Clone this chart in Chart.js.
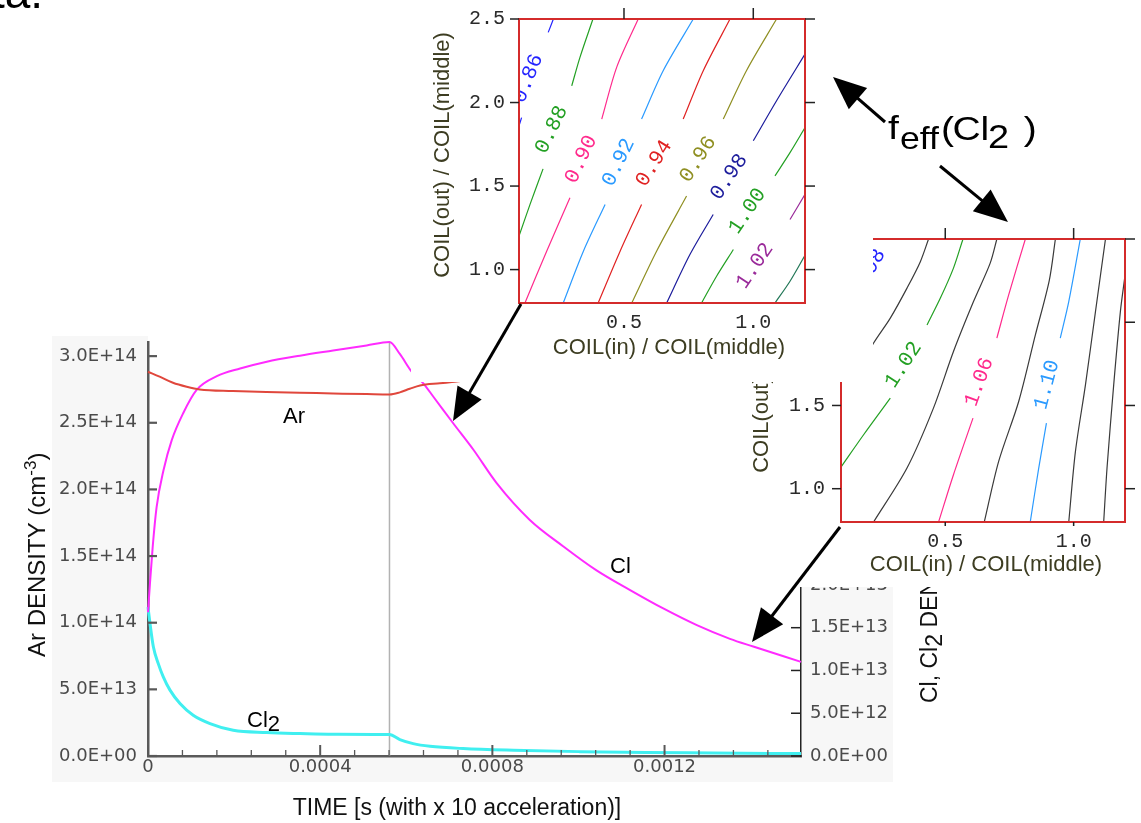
<!DOCTYPE html>
<html>
<head>
<meta charset="utf-8">
<script src="https://cdn.jsdelivr.net/npm/chart.js@4.4.1/dist/chart.umd.min.js"></script>
<style>
  html, body { margin: 0; padding: 0; background: #fff; }
  #stage { position: relative; width: 1141px; height: 823px; overflow: hidden; background: #fff; }
  canvas { position: absolute; display: block; }
  .pane { position: absolute; background: #fff; overflow: hidden; }
  #notes { position: absolute; left: 0; top: 0; pointer-events: none; }
</style>
</head>
<body>
<div id="stage">
  <canvas id="main" width="1141" height="823" style="left:0;top:0"></canvas>
  <div class="pane" style="left:748px;top:200px;width:393px;height:387px">
    <canvas id="insetB" width="393" height="387" style="left:0;top:0"></canvas>
  </div>
  <div class="pane" style="left:411px;top:0;width:462px;height:382px">
    <canvas id="insetA" width="462" height="402" style="left:0;top:-20px"></canvas>
  </div>
  <svg id="notes" width="1141" height="823" xmlns="http://www.w3.org/2000/svg"></svg>
</div>
<script>
// ---------- time history of the densities ----------
const timeTicks = [0, 0.0004, 0.0008, 0.0012];
const arTicks = [0, 5e13, 1e14, 1.5e14, 2e14, 2.5e14, 3e14];
const clTicks = [0, 5e12, 1e13, 1.5e13, 2e13, 2.5e13, 3e13, 3.5e13, 4e13, 4.5e13];

const timeAr = [0, 0.000027, 0.000058, 0.00009, 0.00012, 0.000197, 0.000275, 0.000353, 0.00043, 0.000508,
  0.000561, 0.000585, 0.000608, 0.000632, 0.000678, 0.000706, 0.00075, 0.0008, 0.001, 0.0012, 0.001517];
const arDensity = [2.883e14, 2.846e14, 2.80e14, 2.77e14, 2.75e14, 2.738e14, 2.73e14, 2.725e14, 2.72e14, 2.715e14,
  2.712e14, 2.728e14, 2.755e14, 2.78e14, 2.796e14, 2.805e14, 2.82e14, 2.825e14, 2.835e14, 2.845e14, 2.85e14];

const timeCl = [0, 0.0000046, 0.000011, 0.00002, 0.000036, 0.000055, 0.000082, 0.000113, 0.00016, 0.000214,
  0.000276, 0.000353, 0.00043, 0.000508, 0.000561, 0.000585, 0.000613, 0.000639, 0.000663, 0.000709,
  0.000756, 0.00081, 0.000887, 0.000965, 0.001042, 0.00112, 0.001197, 0.001275, 0.001352, 0.001406, 0.001517];
const clDensity = [16.8e12, 20.2e12, 24.5e12, 29.1e12, 33.4e12, 36.9e12, 40.1e12, 42.8e12, 44.4e12, 45.3e12,
  46.1e12, 46.8e12, 47.4e12, 48.0e12, 48.4e12, 47.0e12, 44.9e12, 43.6e12, 42.0e12, 38.9e12,
  35.8e12, 31.9e12, 27.6e12, 24.5e12, 21.7e12, 19.4e12, 17.25e12, 15.3e12, 13.7e12, 12.8e12, 11.0e12];

const timeCl2 = [0, 0.0000046, 0.0000123, 0.0000239, 0.0000355, 0.0000511, 0.0000743, 0.000105, 0.000144, 0.000198,
  0.000276, 0.000353, 0.00043, 0.000561, 0.000585, 0.000616, 0.000655, 0.000732, 0.000849, 0.001003,
  0.001158, 0.001313, 0.001517];
const cl2Density = [17.4e12, 15.5e12, 12.8e12, 10.8e12, 9.25e12, 7.7e12, 6.13e12, 4.76e12, 3.79e12, 3.0e12,
  2.74e12, 2.62e12, 2.54e12, 2.5e12, 1.92e12, 1.45e12, 1.14e12, 0.87e12, 0.67e12, 0.51e12,
  0.40e12, 0.35e12, 0.28e12];

const switchTime = 0.000561;           // coil ratio switched here
const TIME_MAX = 0.001517;
const TIME_MINOR = 0.00008;
const AR_MAX = 3.106e14;
const CL_MAX = 4.84e13;

// ---------- f_eff(Cl2) contour maps over the coil-current ratios ----------
const insetXTicks = [0.5, 1.0];
const insetYTicks = [1.0, 1.5, 2.0, 2.5];
const RATIO_IN_MIN = 0.094, RATIO_IN_MAX = 1.2;
const RATIO_OUT_MIN = 0.8, RATIO_OUT_MAX = 2.5;

const insetALevels = ['0.86', '0.88', '0.90', '0.92', '0.94', '0.96', '0.98', '1.00', '1.02', '1.04'];
const insetALines = [
  [[[0.094, 1.86], [0.104, 1.91]], [[0.207, 2.42], [0.227, 2.5]]],
  [[[0.094, 1.20], [0.137, 1.392], [0.187, 1.603]], [[0.298, 2.10], [0.33, 2.272], [0.38, 2.5]]],
  [[[0.117, 0.8], [0.201, 1.11], [0.291, 1.43]], [[0.414, 1.901], [0.472, 2.212], [0.555, 2.5]]],
  [[[0.265, 0.8], [0.343, 1.11], [0.427, 1.39]], [[0.568, 1.901], [0.652, 2.192], [0.768, 2.5]]],
  [[[0.40, 0.8], [0.485, 1.11], [0.568, 1.39]], [[0.729, 1.901], [0.807, 2.192], [0.91, 2.5]]],
  [[[0.53, 0.8], [0.626, 1.11], [0.742, 1.44]], [[0.884, 1.901], [0.974, 2.192], [1.09, 2.5]]],
  [[[0.665, 0.8], [0.755, 1.09], [0.845, 1.33]], [[1.0, 1.771], [1.09, 2.011], [1.2, 2.29]]],
  [[[0.80, 0.8], [0.858, 0.96], [0.923, 1.12]], [[1.084, 1.561], [1.142, 1.70], [1.2, 1.85]]],
  [[[1.142, 1.30], [1.2, 1.45]]],
  [[[1.084, 0.8], [1.142, 0.93], [1.2, 1.085]]]
];
const insetALabelSpots = [[0.129, 2.144, -68], [0.22, 1.837, -64], [0.334, 1.66, -65], [0.479, 1.642, -64],
  [0.616, 1.636, -58], [0.786, 1.66, -57], [0.906, 1.555, -56], [0.977, 1.35, -56], [1.006, 1.023, -56], null];

const insetBLevels = ['0.98', '1.00', '1.02', '1.04', '1.06', '1.08', '1.10', '1.12', '1.14'];
const insetBLines = [
  [],
  [[[0.153, 1.684], [0.221, 1.875], [0.286, 2.025], [0.351, 2.205], [0.403, 2.364], [0.435, 2.5]]],
  [[[0.094, 1.13], [0.182, 1.324], [0.286, 1.544]], [[0.429, 1.984], [0.481, 2.145], [0.532, 2.325], [0.569, 2.5]]],
  [[[0.221, 0.8], [0.351, 1.124], [0.454, 1.484], [0.532, 1.824], [0.61, 2.124], [0.675, 2.355], [0.701, 2.5]]],
  [[[0.474, 0.8], [0.532, 1.084], [0.608, 1.424]], [[0.701, 1.905], [0.747, 2.164], [0.812, 2.5]]],
  [[[0.652, 0.8], [0.708, 1.164], [0.786, 1.524], [0.851, 1.924], [0.905, 2.25], [0.929, 2.5]]],
  [[[0.831, 0.8], [0.864, 1.124], [0.894, 1.394]], [[0.948, 1.905], [0.981, 2.124], [1.026, 2.5]]],
  [[[0.981, 0.8], [1.007, 1.224], [1.046, 1.624], [1.085, 2.064], [1.124, 2.5]]],
  [[[1.117, 0.8], [1.13, 1.124], [1.156, 1.624], [1.182, 2.064], [1.2, 2.28]]]
];
const insetBLabelSpots = [[0.2, 2.3, -60], null, [0.337, 1.744, -57], null, [0.632, 1.642, -70], null,
  [0.896, 1.624, -75], null, null];

// ---------- styles ----------
const SANS = "'Liberation Sans', Arial, Helvetica, sans-serif";
const WIDE = "'DejaVu Sans', Verdana, sans-serif";
const MONO = "'Liberation Mono', 'DejaVu Sans Mono', monospace";
const levelColors = {
  '0.86': '#2424ff', '0.88': '#23a023', '0.90': '#ff2a8c', '0.92': '#2a9aff', '0.94': '#e02222',
  '0.96': '#8f8f22', '0.98': '#1c1c9c', '1.00': '#23a023', '1.02': '#9a2a9a', '1.04': '#227757'
};
const levelColorsB = {
  '0.98': '#2424ff', '1.00': '#3a3a3a', '1.02': '#23a023', '1.04': '#3a3a3a', '1.06': '#ff2a8c',
  '1.08': '#3a3a3a', '1.10': '#2a9aff', '1.12': '#3a3a3a', '1.14': '#3a3a3a'
};

function sci(v) {
  if (v === 0) return '0.0E+00';
  const [m, e] = v.toExponential(1).split('e');
  const n = +e;
  return m + 'E' + (n < 0 ? '-' : '+') + String(Math.abs(n)).padStart(2, '0');
}
function fixTicks(list) { return scale => { scale.ticks = list.map(v => ({ value: v })); }; }
function pts(xs, ys) { return xs.map((x, i) => ({ x, y: ys[i] })); }

// draw a run of text pieces one after another along the current x direction
function drawRuns(ctx, runs, x0, y0) {
  let x = x0;
  runs.forEach(r => {
    ctx.font = `${r.size}px ${SANS}`;
    ctx.fillText(r.t, x, y0 + (r.dy || 0));
    x += ctx.measureText(r.t).width;
  });
  return x - x0;
}
function runsWidth(ctx, runs) {
  let w = 0;
  runs.forEach(r => { ctx.font = `${r.size}px ${SANS}`; w += ctx.measureText(r.t).width; });
  return w;
}

// curve names placed at (time, density) on their axis
const nameAnchors = [
  { runs: [{ t: 'Ar', size: 22 }], t: 0.0003136, v: 2.498e14, axis: 'y' },
  { runs: [{ t: 'Cl', size: 22 }], t: 0.0010733, v: 21.39e12, axis: 'y1' },
  { runs: [{ t: 'Cl', size: 22 }, { t: '2', size: 22, dy: 4 }], t: 0.00023, v: 3.39e12, axis: 'y1' }
];

const mainDecor = {
  id: 'mainDecor',
  beforeDraw(chart) {
    const c = chart.ctx;
    c.save();
    c.fillStyle = '#f7f7f7';
    c.fillRect(52, 336, 96, 446);
    c.fillRect(52, 756, 841, 26);
    c.fillRect(801, 578, 92, 204);
    c.restore();
  },
  beforeDatasetsDraw(chart) {
    const { ctx, chartArea: a, scales } = chart;
    const px = scales.x.getPixelForValue(switchTime);
    ctx.save();
    ctx.strokeStyle = '#b2b2b2';
    ctx.lineWidth = 1.5;
    ctx.beginPath(); ctx.moveTo(px, a.top); ctx.lineTo(px, a.bottom); ctx.stroke();
    ctx.restore();
  },
  afterDraw(chart) {
    const { ctx, chartArea: a, scales } = chart;
    const { x, y, y1 } = scales;
    ctx.save();
    const seg = (x0, y0, x1, y1_) => { ctx.beginPath(); ctx.moveTo(x0, y0); ctx.lineTo(x1, y1_); ctx.stroke(); };
    // inward tick marks
    ctx.strokeStyle = '#585858'; ctx.lineWidth = 2.2;
    arTicks.forEach(v => { const py = y.getPixelForValue(v); seg(a.left, py, a.left + 9, py); });
    for (let i = 0; i * TIME_MINOR <= TIME_MAX + 1e-12; i++) {
      const px = x.getPixelForValue(i * TIME_MINOR);
      const len = i % 5 === 0 ? 11 : 6;
      ctx.lineWidth = i % 5 === 0 ? 2 : 1.3;
      seg(px, a.bottom, px, a.bottom - len);
    }
    ctx.strokeStyle = '#222'; ctx.lineWidth = 1.5;
    clTicks.forEach(v => { const py = y1.getPixelForValue(v); seg(a.right, py, a.right - 10, py); });

    // curve names
    ctx.fillStyle = '#000';
    ctx.textBaseline = 'alphabetic'; ctx.textAlign = 'left';
    nameAnchors.forEach(n => {
      drawRuns(ctx, n.runs, x.getPixelForValue(n.t), scales[n.axis].getPixelForValue(n.v));
    });

    // axis titles
    ctx.fillStyle = '#111';
    const xt = [{ t: 'TIME [s (with x 10 acceleration)]', size: 23 }];
    drawRuns(ctx, xt, 457 - runsWidth(ctx, xt) / 2, 815);

    ctx.save();
    ctx.translate(45, 657); ctx.rotate(-Math.PI / 2);
    drawRuns(ctx, [{ t: 'Ar DENSITY (cm', size: 24 }, { t: '-3', size: 17, dy: -9 }, { t: ')', size: 24 }], 0, 0);
    ctx.restore();

    ctx.save();
    ctx.translate(937, 703); ctx.rotate(-Math.PI / 2);
    drawRuns(ctx, [{ t: 'Cl, Cl', size: 23 }, { t: '2', size: 23, dy: 5 }, { t: ' DENSITY (cm', size: 23 },
      { t: '-3', size: 16, dy: -9 }, { t: ')', size: 23 }], 0, 0);
    ctx.restore();
    ctx.restore();
  }
};

const tickFont = { family: WIDE, size: 18 };
new Chart(document.getElementById('main'), {
  type: 'line',
  data: {
    datasets: [
      { label: 'Ar', data: pts(timeAr, arDensity), yAxisID: 'y', borderColor: '#e0473c', borderWidth: 2,
        pointRadius: 0, cubicInterpolationMode: 'monotone', clip: 4 },
      { label: 'Cl', data: pts(timeCl, clDensity), yAxisID: 'y1', borderColor: '#ff2bff', borderWidth: 2,
        pointRadius: 0, cubicInterpolationMode: 'monotone', clip: 4 },
      { label: 'Cl2', data: pts(timeCl2, cl2Density), yAxisID: 'y1', borderColor: '#40eff0', borderWidth: 3,
        pointRadius: 0, cubicInterpolationMode: 'monotone', clip: 4 }
    ]
  },
  options: {
    responsive: false, animation: false, devicePixelRatio: 1, events: [],
    layout: { padding: { left: 0, right: 248, top: 342, bottom: 40 } },
    plugins: { legend: { display: false }, tooltip: { enabled: false } },
    scales: {
      x: {
        type: 'linear', min: 0, max: TIME_MAX,
        afterBuildTicks: fixTicks(timeTicks), afterFit: s => { s.height = 27; },
        grid: { drawOnChartArea: false, drawTicks: false },
        border: { color: '#5a5a5a', width: 2.5 },
        ticks: { padding: 1, color: '#4a4a4a', font: tickFont, maxRotation: 0, autoSkip: false,
          callback: v => (v === 0 ? '0' : v.toFixed(4)) }
      },
      y: {
        position: 'left', min: 0, max: AR_MAX,
        afterBuildTicks: fixTicks(arTicks), afterFit: s => { s.width = 148; },
        grid: { drawOnChartArea: false, drawTicks: false },
        border: { color: '#5a5a5a', width: 2.5 },
        ticks: { padding: 11, color: '#4a4a4a', font: tickFont, autoSkip: false, callback: v => sci(v) }
      },
      y1: {
        position: 'right', min: 0, max: CL_MAX,
        afterBuildTicks: fixTicks(clTicks), afterFit: s => { s.width = 92; },
        grid: { drawOnChartArea: false, drawTicks: false },
        border: { color: '#222', width: 1.5 },
        ticks: { padding: 9, color: '#4a4a4a', font: tickFont, autoSkip: false, callback: v => sci(v) }
      }
    }
  },
  plugins: [mainDecor]
});

// ---------- contour map panels ----------
function makeInset(id, cfg) {
  const datasets = [];
  cfg.lines.forEach((segs, i) => {
    const col = cfg.colors[cfg.levels[i]];
    segs.forEach(seg => datasets.push({
      data: seg.map(p => ({ x: p[0], y: p[1] })), showLine: true, borderColor: col,
      borderWidth: 1.2, pointRadius: 0, tension: 0.3, fill: false
    }));
  });
  const decor = {
    id: 'insetDecor',
    afterDatasetsDraw(chart) {
      const { ctx, chartArea: a, scales: { x, y } } = chart;
      ctx.save();
      ctx.beginPath(); ctx.rect(a.left, a.top, a.right - a.left, a.bottom - a.top); ctx.clip();
      ctx.font = `21px ${MONO}`; ctx.textAlign = 'center'; ctx.textBaseline = 'middle';
      cfg.labelSpots.forEach((s, i) => {
        if (!s) return;
        ctx.save();
        ctx.translate(x.getPixelForValue(s[0]), y.getPixelForValue(s[1]));
        ctx.rotate(s[2] * Math.PI / 180);
        ctx.fillStyle = cfg.colors[cfg.levels[i]];
        ctx.fillText(cfg.levels[i], 0, 0);
        ctx.restore();
      });
      ctx.restore();

      ctx.save();
      ctx.strokeStyle = '#d42b2b'; ctx.lineWidth = 2;
      ctx.strokeRect(a.left, a.top, a.right - a.left, a.bottom - a.top);
      ctx.strokeStyle = '#222'; ctx.lineWidth = 1.5;
      const seg = (x0, y0, x1, y1) => { ctx.beginPath(); ctx.moveTo(x0, y0); ctx.lineTo(x1, y1); ctx.stroke(); };
      insetYTicks.forEach(v => {
        const py = y.getPixelForValue(v);
        seg(a.left - 9, py, a.left, py);
        seg(a.right, py, a.right + 10, py);
      });
      insetXTicks.forEach(v => {
        const px = x.getPixelForValue(v);
        seg(px, a.top - 11, px, a.top);
        if (cfg.bottomTicks) seg(px, a.bottom, px, a.bottom + 4);
      });
      ctx.fillStyle = '#3d3d22';
      ctx.font = `22px ${SANS}`;
      ctx.textAlign = 'center'; ctx.textBaseline = 'middle';
      ctx.fillText('COIL(in) / COIL(middle)', cfg.xTitleAt[0], cfg.xTitleAt[1]);
      ctx.translate(cfg.yTitleAt[0], cfg.yTitleAt[1]); ctx.rotate(-Math.PI / 2);
      ctx.fillText('COIL(out) / COIL(middle)', 0, 0);
      ctx.restore();
    }
  };
  const monoTicks = { family: MONO, size: 20 };
  new Chart(document.getElementById(id), {
    type: 'scatter',
    data: { datasets },
    options: {
      responsive: false, animation: false, devicePixelRatio: 1, events: [],
      layout: { padding: cfg.pad },
      plugins: { legend: { display: false }, tooltip: { enabled: false } },
      scales: {
        x: {
          type: 'linear', min: RATIO_IN_MIN, max: RATIO_IN_MAX,
          afterBuildTicks: fixTicks(insetXTicks), afterFit: s => { s.height = cfg.xh; },
          grid: { drawOnChartArea: false, drawTicks: false }, border: { display: false },
          ticks: { padding: 8, color: '#2a2a2a', font: monoTicks, maxRotation: 0, autoSkip: false,
            callback: v => v.toFixed(1) }
        },
        y: {
          type: 'linear', min: RATIO_OUT_MIN, max: RATIO_OUT_MAX,
          afterBuildTicks: fixTicks(insetYTicks), afterFit: s => { s.width = cfg.yw; },
          grid: { drawOnChartArea: false, drawTicks: false }, border: { display: false },
          ticks: { padding: cfg.ypad, color: '#2a2a2a', font: monoTicks, autoSkip: false,
            callback: v => v.toFixed(1) }
        }
      }
    },
    plugins: [decor]
  });
}

makeInset('insetB', {
  levels: insetBLevels, lines: insetBLines, labelSpots: insetBLabelSpots, colors: levelColorsB,
  pad: { left: 0, right: 16, top: 39, bottom: 0 }, yw: 93, xh: 65, ypad: 16, bottomTicks: true,
  xTitleAt: [238, 365], yTitleAt: [14, 150]
});
makeInset('insetA', {
  levels: insetALevels, lines: insetALines, labelSpots: insetALabelSpots, colors: levelColors,
  pad: { left: 0, right: 68, top: 39, bottom: 0 }, yw: 108, xh: 79, ypad: 14, bottomTicks: false,
  xTitleAt: [258, 368], yTitleAt: [32, 175]
});

// ---------- pointers and caption ----------
const NS = 'http://www.w3.org/2000/svg';
const notes = document.getElementById('notes');
function el(tag, attrs, text, parent) {
  const e = document.createElementNS(NS, tag);
  Object.entries(attrs).forEach(([k, v]) => e.setAttribute(k, v));
  if (text != null) e.textContent = text;
  (parent || notes).appendChild(e);
  return e;
}
function pointer(x0, y0, x1, y1, head, half) {
  const L = Math.hypot(x1 - x0, y1 - y0), dx = (x1 - x0) / L, dy = (y1 - y0) / L;
  const bx = x1 - head * dx, by = y1 - head * dy;
  el('line', { x1: x0, y1: y0, x2: bx + dx * 4, y2: by + dy * 4, stroke: '#000', 'stroke-width': 3 });
  el('polygon', { points: `${x1},${y1} ${bx - dy * half},${by + dx * half} ${bx + dy * half},${by - dx * half}`, fill: '#000' });
}
pointer(521, 304, 453, 421, 33, 14);
pointer(840, 527, 752, 642, 33, 14);
pointer(885, 122, 833, 77, 33, 14);
pointer(940, 166, 1008, 222, 34, 14);

el('text', { x: -8, y: 8, 'font-family': SANS, 'font-size': 46, fill: '#000' }, 'ta.');

// f_eff(Cl2) caption, set slightly wide
const capGroup = el('g', { transform: 'translate(888,0) scale(1.15,1)' });
const cap = el('text', { 'font-family': SANS, 'font-size': 34, fill: '#000' }, null, capGroup);
[['f', 0, 139, 34], ['eff', 10.4, 149, 31], ['(', 46, 140, 34], ['Cl', 56, 140, 34], ['2', 87, 148, 33], [')', 118, 140, 34]]
  .forEach(([t, x, y, s]) => {
    const sp = document.createElementNS(NS, 'tspan');
    sp.setAttribute('x', x); sp.setAttribute('y', y); sp.setAttribute('font-size', s);
    sp.textContent = t;
    cap.appendChild(sp);
  });
</script>
</body>
</html>
